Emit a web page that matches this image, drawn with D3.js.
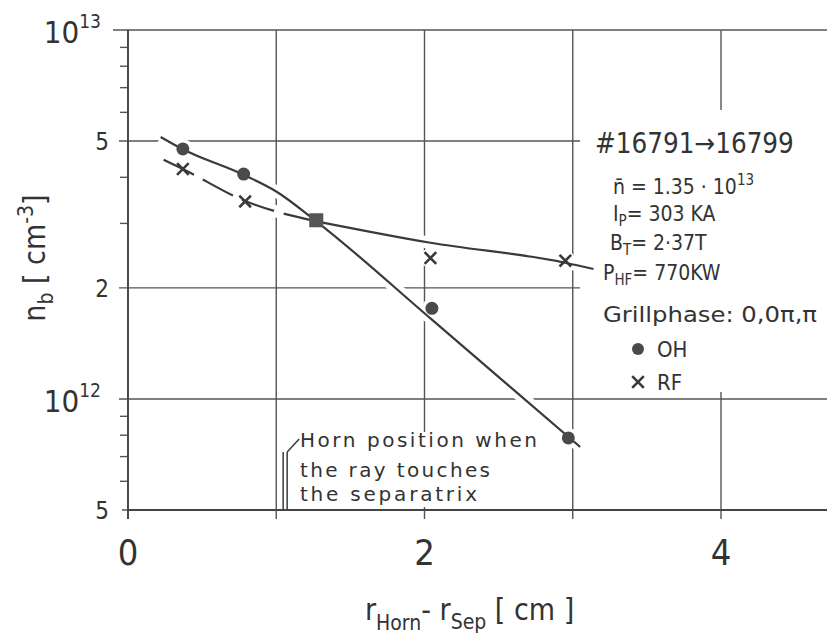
<!DOCTYPE html>
<html>
<head>
<meta charset="utf-8">
<script src="https://cdn.jsdelivr.net/npm/d3@7"></script>
<style>
  body { margin: 0; background: #fff; }
  svg text { font-family: "DejaVu Sans Condensed", "DejaVu Sans", sans-serif; fill: #333; }
</style>
</head>
<body>
<div id="chart"></div>
<script>
// values
var xTickLabels = [0, 2, 4];
var xTicks = [0, 1, 2, 3, 4];
var yMajor = [5e11, 1e12, 2e12, 5e12, 1e13];
var yMinor = [6e11, 7e11, 8e11, 9e11, 3e12, 4e12, 6e12, 7e12, 8e12, 9e12];

var ohX = [0.37, 0.78, 2.05, 2.97];
var ohY = [4.76e12, 4.07e12, 1.76e12, 7.84e11];
var rfX = [0.37, 0.79, 2.04, 2.95];
var rfY = [4.2e12, 3.43e12, 2.41e12, 2.37e12];
var bothX = [1.27];
var bothY = [3.05e12];

// hand drawn fit curves
var ohFitX = [0.22, 0.37, 0.78, 1.0, 1.27, 2.05, 3.05];
var ohFitY = [5.13e12, 4.75e12, 4.05e12, 3.65e12, 3.03e12, 1.64e12, 7.41e11];
var rfDashX = [0.24, 0.37, 0.79, 1.27];
var rfDashY = [4.45e12, 4.2e12, 3.44e12, 3.03e12];
var rfFitX = [1.27, 2.04, 2.95, 3.14];
var rfFitY = [3.03e12, 2.65e12, 2.34e12, 2.25e12];

var hornX = 1.06;
var hornText = ["Horn position when", "the ray touches", "the separatrix"];

var width = 827, height = 636,
    margin = {left: 128, top: 30, bottom: 126},
    ink = "#3a3a3a";

var svg = d3.select("#chart").append("svg")
    .attr("width", width)
    .attr("height", height);

var x = d3.scaleLinear().domain([0, 4.715]).range([margin.left, width]);
var y = d3.scaleLog().domain([5e11, 1e13]).range([height - margin.bottom, margin.top]);

var zip = function (a, b) { return a.map(function (v, i) { return [v, b[i]]; }); };

// grid
var grid = svg.append("g").attr("stroke", "#555").attr("stroke-width", 1.4);
grid.selectAll(".hgrid")
  .data(yMajor)
  .enter().append("line")
    .attr("x1", function (d) { return d === 1e13 ? 113 : (d === 5e11 ? 122 : 119); })
    .attr("x2", width)
    .attr("y1", function (d) { return y(d); })
    .attr("y2", function (d) { return y(d); });
grid.selectAll(".vgrid")
  .data(xTicks)
  .enter().append("line")
    .attr("x1", function (d) { return x(d); })
    .attr("x2", function (d) { return x(d); })
    .attr("y1", y(1e13))
    .attr("y2", y(5e11) + 9);

// minor ticks on the left axis
svg.append("g")
    .attr("transform", "translate(" + margin.left + ",0)")
    .call(d3.axisLeft(y).tickValues(yMinor).tickSize(8).tickSizeOuter(0).tickFormat(""))
    .call(function (g) {
      g.select(".domain").remove();
      g.selectAll("line").attr("stroke", "#555").attr("stroke-width", 1.4);
    });

// white patches under the annotations
svg.append("rect").attr("x", 580).attr("y", 110).attr("width", 247).attr("height", 282).attr("fill", "#fff");
svg.append("rect").attr("x", 296).attr("y", 432).attr("width", 250).attr("height", 75).attr("fill", "#fff");

// curves with white halo so the grid breaks around them
var line = d3.line()
    .x(function (d) { return x(d[0]); })
    .y(function (d) { return y(d[1]); })
    .curve(d3.curveMonotoneX);

var curves = [
  {pts: zip(ohFitX, ohFitY), dash: null},
  {pts: zip(rfDashX, rfDashY), dash: "34,10"},
  {pts: zip(rfFitX, rfFitY), dash: null}
];
svg.selectAll(".halo")
  .data(curves)
  .enter().append("path")
    .attr("d", function (d) { return line(d.pts); })
    .attr("fill", "none")
    .attr("stroke", "#fff")
    .attr("stroke-width", 12);

var markerHalo = zip(ohX, ohY).concat(zip(rfX, rfY));
svg.selectAll(".mhalo")
  .data(markerHalo)
  .enter().append("circle")
    .attr("cx", function (d) { return x(d[0]); })
    .attr("cy", function (d) { return y(d[1]); })
    .attr("r", 10)
    .attr("fill", "#fff");

svg.selectAll(".curve")
  .data(curves)
  .enter().append("path")
    .attr("d", function (d) { return line(d.pts); })
    .attr("fill", "none")
    .attr("stroke", ink)
    .attr("stroke-width", 2.2)
    .attr("stroke-dasharray", function (d) { return d.dash; });

// markers
svg.selectAll(".oh")
  .data(zip(ohX, ohY))
  .enter().append("circle")
    .attr("cx", function (d) { return x(d[0]); })
    .attr("cy", function (d) { return y(d[1]); })
    .attr("r", 6.5)
    .attr("fill", "#4a4a4a");

var cross = d3.symbol().type(d3.symbolX).size(90);
svg.selectAll(".rf")
  .data(zip(rfX, rfY))
  .enter().append("path")
    .attr("transform", function (d) { return "translate(" + x(d[0]) + "," + y(d[1]) + ")"; })
    .attr("d", cross)
    .attr("fill", "none")
    .attr("stroke", ink)
    .attr("stroke-width", 2.6);

svg.selectAll(".both")
  .data(zip(bothX, bothY))
  .enter().append("rect")
    .attr("x", function (d) { return x(d[0]) - 7; })
    .attr("y", function (d) { return y(d[1]) - 7; })
    .attr("width", 14)
    .attr("height", 14)
    .attr("fill", "#555");

// axes
svg.append("line")
    .attr("x1", margin.left).attr("x2", margin.left)
    .attr("y1", y(1e13)).attr("y2", y(5e11) + 9)
    .attr("stroke", "#444").attr("stroke-width", 1.8);
svg.append("line")
    .attr("x1", margin.left).attr("x2", width)
    .attr("y1", y(5e11)).attr("y2", y(5e11))
    .attr("stroke", "#444").attr("stroke-width", 1.8);

// y tick labels
var yl = svg.append("g");
[{v: 1e13, e: "13"}, {v: 1e12, e: "12"}].forEach(function (t) {
  var tx = yl.append("text")
      .attr("x", 101)
      .attr("y", y(t.v) + 13)
      .attr("text-anchor", "end")
      .style("font-size", "31px");
  tx.append("tspan").text("10");
  tx.append("tspan").attr("dy", -15).style("font-size", "19px").text(t.e);
});
[{v: 5e12, s: "5"}, {v: 2e12, s: "2"}, {v: 5e11, s: "5"}].forEach(function (t) {
  yl.append("text")
      .attr("x", 109)
      .attr("y", y(t.v) + 9)
      .attr("text-anchor", "end")
      .style("font-size", "24px")
      .text(t.s);
});

// x tick labels
svg.selectAll(".xl")
  .data(xTickLabels)
  .enter().append("text")
    .attr("x", function (d) { return x(d); })
    .attr("y", 565)
    .attr("text-anchor", "middle")
    .style("font-size", "36px")
    .text(function (d) { return d; });

// axis titles
var xt = svg.append("text").attr("x", 365).attr("y", 620).style("font-size", "30px");
xt.append("tspan").text("r");
xt.append("tspan").attr("dy", 10).style("font-size", "21px").text("Horn");
xt.append("tspan").attr("dy", -10).text("- r");
xt.append("tspan").attr("dy", 9).style("font-size", "21px").text("Sep");
xt.append("tspan").attr("dy", -9).text(" [ cm ]");

var yt = svg.append("text")
    .attr("transform", "translate(45,258) rotate(-90)")
    .attr("text-anchor", "middle")
    .style("font-size", "30px");
yt.append("tspan").text("n");
yt.append("tspan").attr("dy", 8).style("font-size", "21px").text("b");
yt.append("tspan").attr("dy", -8).text(" [ cm");
yt.append("tspan").attr("dy", -12).style("font-size", "21px").text("-3");
yt.append("tspan").attr("dy", 12).text("]");

// shot annotation
svg.append("text")
    .attr("x", 595).attr("y", 153)
    .style("font-size", "27.5px")
    .text("#16791\u219216799");

var params = svg.append("g").style("font-size", "21px");
var p1 = params.append("text").attr("x", 613).attr("y", 194);
p1.append("tspan").text("n\u0304 = 1.35 \u00b7 10");
p1.append("tspan").attr("dy", -9).style("font-size", "15px").text("13");
var p2 = params.append("text").attr("x", 613).attr("y", 221);
p2.append("tspan").text("I");
p2.append("tspan").attr("dy", 5).style("font-size", "15px").text("P");
p2.append("tspan").attr("dy", -5).text("= 303 KA");
var p3 = params.append("text").attr("x", 610).attr("y", 250);
p3.append("tspan").text("B");
p3.append("tspan").attr("dy", 5).style("font-size", "15px").text("T");
p3.append("tspan").attr("dy", -5).text("= 2\u00b737T");
var p4 = params.append("text").attr("x", 603).attr("y", 280);
p4.append("tspan").text("P");
p4.append("tspan").attr("dy", 5).style("font-size", "15px").text("HF");
p4.append("tspan").attr("dy", -5).text("= 770KW");

params.append("text").attr("x", 603).attr("y", 322)
    .attr("textLength", 214).attr("lengthAdjust", "spacingAndGlyphs")
    .style("font-size", "22px")
    .text("Grillphase: 0,0\u03c0,\u03c0");

// legend
svg.append("circle").attr("cx", 638).attr("cy", 349).attr("r", 6).attr("fill", "#4a4a4a");
svg.append("path")
    .attr("transform", "translate(638,382)")
    .attr("d", cross)
    .attr("fill", "none").attr("stroke", ink).attr("stroke-width", 2.6);
svg.append("text").attr("x", 657).attr("y", 357).style("font-size", "22px").text("OH");
svg.append("text").attr("x", 657).attr("y", 390).style("font-size", "22px").text("RF");

// horn position marker
var hx = x(hornX);
svg.append("line").attr("x1", hx - 2).attr("x2", hx - 2).attr("y1", 452).attr("y2", y(5e11))
    .attr("stroke", ink).attr("stroke-width", 1.5);
svg.append("line").attr("x1", hx + 2).attr("x2", hx + 2).attr("y1", 452).attr("y2", y(5e11))
    .attr("stroke", ink).attr("stroke-width", 1.5);
svg.append("line").attr("x1", hx + 2).attr("x2", hx + 14).attr("y1", 452).attr("y2", 439)
    .attr("stroke", ink).attr("stroke-width", 1.5);

svg.selectAll(".horn")
  .data(hornText)
  .enter().append("text")
    .attr("x", 300)
    .attr("y", function (d, i) { return [447, 477, 501][i]; })
    .attr("textLength", function (d, i) { return [237, 190, 177][i]; })
    .attr("lengthAdjust", "spacing")
    .style("font-family", "'DejaVu Sans', sans-serif")
    .style("font-size", "20px")
    .text(function (d) { return d; });
</script>
</body>
</html>
